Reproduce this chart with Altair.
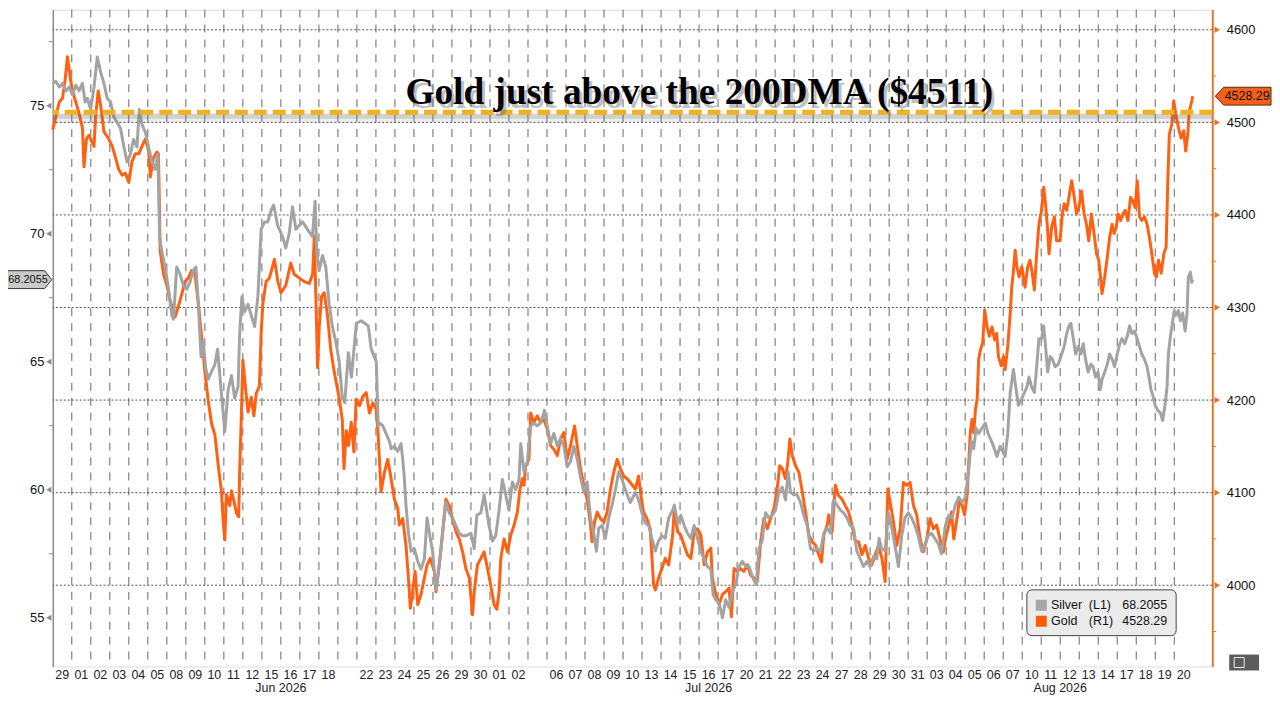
import altair as alt
import pandas as pd

# ---------------- labels / ticks ----------------
day_labels = ["29", "01", "02", "03", "04", "05", "08", "09", "10", "11", "12", "15", "16", "17", "18", "",
              "22", "23", "24", "25", "26", "29", "30", "01", "02", "", "06", "07", "08", "09", "10",
              "13", "14", "15", "16", "17", "20", "21", "22", "23", "24", "27", "28", "29", "30", "31",
              "03", "04", "05", "06", "07", "10", "11", "12", "13", "14", "17", "18", "19", "20"]
month_names = ["Jun 2026", "Jul 2026", "Aug 2026"]
month_first = [1, 23, 46]
month_last = [22, 45, 59]

gold_ticks = [4000, 4100, 4200, 4300, 4400, 4500, 4600]
gold_minor = [3950, 4050, 4150, 4250, 4350, 4450, 4550]
silver_ticks = [55, 60, 65, 70, 75]
silver_minor = [57.5, 62.5, 67.5, 72.5, 77.5]

dma_level = 4511
title_text = "Gold just above the 200DMA ($4511)"
silver_last = 68.2055
gold_last = 4528.29

# ---------------- series (position in trading-day slots, value) ----------------
gold_t = [0.0, 0.16, 0.34, 0.51, 0.65, 0.77, 0.9, 1.03, 1.21, 1.38, 1.56, 1.64, 1.77, 1.9, 2.08, 2.17, 2.25, 2.39,
          2.52, 2.69, 2.95, 3.13, 3.3, 3.47, 3.65, 3.82, 4.0, 4.17, 4.34, 4.52, 4.69, 4.87, 5.04, 5.13, 5.3, 5.48,
          5.56, 5.65, 5.83, 6.0, 6.17, 6.35, 6.44, 6.7, 6.96, 7.13, 7.31, 7.48, 7.66, 7.83, 8.0, 8.18, 8.35, 8.53,
          8.7, 8.87, 8.96, 9.05, 9.13, 9.31, 9.4, 9.54, 9.66, 9.78, 9.83, 9.92, 10.0, 10.13, 10.27, 10.44, 10.58,
          10.7, 10.87, 10.96, 11.05, 11.22, 11.4, 11.66, 11.84, 12.0, 12.26, 12.52, 12.7, 12.96, 13.23, 13.49,
          13.67, 13.76, 13.85, 13.93, 14.02, 14.14, 14.28, 14.45, 14.62, 14.8, 15.06, 15.23, 15.32, 15.44, 15.56,
          15.7, 15.84, 15.96, 16.14, 16.31, 16.49, 16.66, 16.84, 17.01, 17.1, 17.27, 17.45, 17.62, 17.8, 17.97,
          18.15, 18.23, 18.41, 18.58, 18.71, 18.81, 18.93, 19.06, 19.2, 19.37, 19.55, 19.69, 19.86, 20.07, 20.16,
          20.33, 20.51, 20.68, 20.86, 21.03, 21.21, 21.38, 21.56, 21.73, 21.91, 22.08, 22.17, 22.34, 22.52, 22.69,
          22.87, 23.04, 23.22, 23.36, 23.48, 23.57, 23.74, 23.92, 24.09, 24.27, 24.44, 24.58, 24.7, 24.79, 24.88,
          25.05, 25.14, 25.31, 25.49, 25.66, 25.84, 26.01, 26.19, 26.36, 26.54, 26.71, 26.89, 27.06, 27.24, 27.45,
          27.59, 27.76, 27.94, 28.11, 28.29, 28.37, 28.5, 28.64, 28.81, 28.99, 29.16, 29.34, 29.51, 29.69, 29.86,
          30.03, 30.21, 30.38, 30.65, 30.82, 30.94, 31.08, 31.26, 31.43, 31.61, 31.7, 31.87, 32.05, 32.22, 32.4,
          32.61, 32.7, 32.87, 33.04, 33.22, 33.39, 33.57, 33.74, 33.92, 34.09, 34.27, 34.44, 34.62, 34.7, 34.88,
          35.05, 35.23, 35.4, 35.58, 35.7, 35.84, 36.01, 36.19, 36.36, 36.54, 36.71, 36.89, 37.06, 37.24, 37.41,
          37.59, 37.76, 37.94, 38.11, 38.24, 38.38, 38.55, 38.67, 38.78, 38.9, 39.08, 39.25, 39.43, 39.6, 39.78,
          39.95, 40.13, 40.3, 40.44, 40.56, 40.74, 40.82, 41.0, 41.17, 41.34, 41.52, 41.69, 41.87, 42.04, 42.22,
          42.39, 42.57, 42.74, 42.92, 43.09, 43.27, 43.44, 43.62, 43.79, 43.93, 44.05, 44.23, 44.4, 44.58, 44.75,
          44.93, 45.1, 45.28, 45.45, 45.63, 45.8, 45.98, 46.15, 46.33, 46.5, 46.67, 46.85, 46.96, 47.14, 47.28,
          47.4, 47.57, 47.7, 47.84, 47.97, 48.1, 48.19, 48.27, 48.36, 48.45, 48.54, 48.63, 48.71, 48.8, 48.92,
          49.03, 49.15, 49.27, 49.41, 49.55, 49.66, 49.75, 49.9, 50.02, 50.1, 50.24, 50.37, 50.45, 50.54, 50.63,
          50.72, 50.84, 50.98, 51.15, 51.29, 51.41, 51.53, 51.64, 51.76, 51.88, 52.02, 52.13, 52.23, 52.34, 52.41,
          52.55, 52.69, 52.81, 52.99, 53.11, 53.21, 53.34, 53.46, 53.6, 53.74, 53.86, 53.98, 54.12, 54.26, 54.38,
          54.5, 54.64, 54.78, 54.91, 55.03, 55.13, 55.2, 55.34, 55.48, 55.6, 55.73, 55.83, 55.95, 56.04, 56.18,
          56.3, 56.42, 56.56, 56.7, 56.82, 56.94, 57.05, 57.17, 57.29, 57.43, 57.57, 57.69, 57.82, 57.96, 58.06,
          58.17, 58.31, 58.45, 58.57, 58.66, 58.74, 58.87, 58.97, 59.09, 59.22, 59.36, 59.5, 59.6, 59.71, 59.79,
          59.92, 59.97]
gold_v = [4492, 4506, 4522, 4526, 4546, 4571, 4551, 4534, 4522, 4510, 4494, 4452, 4482, 4486, 4478, 4474, 4506, 4534,
          4518, 4490, 4482, 4474, 4462, 4449, 4443, 4445, 4435, 4458, 4466, 4466, 4474, 4482, 4470, 4441, 4462, 4468,
          4466, 4361, 4336, 4324, 4308, 4296, 4290, 4308, 4328, 4332, 4340, 4336, 4304, 4268, 4231, 4199, 4175, 4162,
          4130, 4102, 4070, 4049, 4098, 4086, 4102, 4090, 4078, 4074, 4122, 4183, 4243, 4215, 4187, 4203, 4183,
          4207, 4215, 4272, 4304, 4328, 4332, 4352, 4328, 4316, 4324, 4348, 4336, 4332, 4328, 4326,
          4336, 4377, 4304, 4235, 4280, 4312, 4316, 4292, 4255, 4231, 4203, 4179, 4126, 4167, 4151,
          4176, 4144, 4201, 4194, 4204, 4208, 4186, 4197, 4190, 4169, 4101, 4122, 4136, 4115, 4093,
          4083, 4065, 4072, 4043, 4008, 3975, 3993, 4015, 3979, 3990, 4008, 4022, 4029, 4015, 3993,
          4022, 4058, 4093, 4086, 4072, 4058, 4050, 4036, 4018, 4008, 3968, 3993, 4022, 4029, 4036,
          4018, 4000, 3979, 3974, 3993, 4029, 4050, 4036, 4054, 4065, 4079, 4104, 4115, 4108, 4129,
          4136, 4186, 4176, 4183, 4176, 4179, 4169, 4151, 4147, 4140, 4158, 4165, 4136, 4151, 4172,
          4151, 4126, 4108, 4093, 4065, 4047, 4068, 4079, 4072, 4068, 4079, 4104, 4122, 4136, 4126,
          4118, 4115, 4111, 4104, 4118, 4097, 4079, 4072, 4061, 4000, 3995, 4008, 4018, 4029, 4022,
          4054, 4083, 4058, 4054, 4043, 4033, 4029, 4058, 4061, 4054, 4022, 4036, 4040, 4008, 3990,
          3979, 3990, 3993, 3997, 3966, 4018, 4015, 4018, 4015, 4022, 4011, 4008, 4004, 4047, 4072,
          4061, 4072, 4083, 4104, 4129, 4126, 4115, 4133, 4158, 4140, 4129, 4122, 4101, 4079, 4054,
          4047, 4043, 4033, 4025, 4054, 4065, 4076, 4058, 4108, 4097, 4093, 4086, 4079, 4065, 4047,
          4047, 4033, 4043, 4029, 4022, 4033, 4043, 4029, 4004, 4104, 4090, 4068, 4043, 4061, 4111,
          4108, 4111, 4086, 4076, 4050, 4036, 4050, 4072, 4061, 4065, 4050, 4036, 4050, 4065, 4079,
          4050, 4072, 4093, 4086, 4076, 4097, 4133, 4165, 4179, 4165, 4190, 4201, 4244, 4254, 4262,
          4297, 4279, 4269, 4279, 4265, 4272, 4247, 4237, 4247, 4233, 4258, 4294, 4322, 4340, 4362,
          4344, 4333, 4344, 4322, 4344, 4351, 4337, 4319, 4358, 4390, 4405, 4430, 4412, 4383, 4358,
          4387, 4398, 4372, 4372, 4401, 4412, 4405, 4419, 4437, 4419, 4401, 4408, 4426, 4401, 4390,
          4372, 4401, 4380, 4358, 4351, 4330, 4315, 4333, 4355, 4376, 4390, 4380, 4387, 4401, 4394,
          4401, 4405, 4394, 4419, 4415, 4408, 4437, 4398, 4394, 4398, 4390, 4376, 4358, 4337, 4333,
          4351, 4337, 4358, 4365, 4437, 4487, 4498, 4523, 4508, 4494, 4483, 4491, 4469, 4487, 4512,
          4523, 4528.29]

silver_t = [0.0, 0.16, 0.34, 0.51, 0.69, 0.86, 1.03, 1.21, 1.38, 1.56, 1.7, 1.82, 1.99, 2.17, 2.34, 2.52, 2.69, 2.86,
            3.04, 3.21, 3.39, 3.56, 3.74, 3.91, 4.08, 4.25, 4.43, 4.55, 4.69, 4.87, 5.04, 5.22, 5.39, 5.53, 5.62,
            5.74, 5.91, 6.09, 6.26, 6.35, 6.52, 6.7, 6.87, 7.05, 7.22, 7.39, 7.53, 7.66, 7.8, 7.92, 8.04, 8.18, 8.35,
            8.53, 8.67, 8.79, 8.91, 9.05, 9.22, 9.4, 9.57, 9.75, 9.83, 9.95, 10.09, 10.27, 10.44, 10.62, 10.79,
            10.96, 11.14, 11.31, 11.48, 11.62, 11.83, 12.09, 12.26, 12.44, 12.61, 12.79, 12.96, 13.14, 13.4, 13.66,
            13.8, 13.89, 14.01, 14.19, 14.36, 14.54, 14.71, 14.89, 15.06, 15.23, 15.36, 15.55, 15.71, 15.97, 16.23,
            16.6, 16.75, 17.02, 17.12, 17.19, 17.36, 17.53, 17.71, 17.8, 17.97, 18.15, 18.32, 18.41, 18.5, 18.58,
            18.71, 18.85, 19.02, 19.2, 19.37, 19.55, 19.69, 19.86, 19.98, 20.16, 20.24, 20.42, 20.59, 20.68, 20.86,
            21.03, 21.21, 21.38, 21.56, 21.73, 22.0, 22.17, 22.31, 22.52, 22.69, 22.78, 22.95, 23.13, 23.3, 23.48,
            23.65, 23.83, 24.0, 24.18, 24.35, 24.53, 24.62, 24.79, 24.97, 25.14, 25.31, 25.49, 25.66, 25.87, 26.01,
            26.19, 26.36, 26.54, 26.71, 26.89, 27.06, 27.24, 27.41, 27.59, 27.76, 27.94, 28.11, 28.29, 28.46, 28.6,
            28.72, 28.9, 29.07, 29.25, 29.42, 29.6, 29.77, 29.95, 30.12, 30.38, 30.65, 30.82, 30.99, 31.17, 31.35,
            31.52, 31.7, 31.87, 32.05, 32.22, 32.4, 32.61, 32.7, 32.87, 33.04, 33.22, 33.39, 33.57, 33.74, 33.92,
            34.09, 34.27, 34.44, 34.62, 34.74, 34.88, 35.05, 35.23, 35.4, 35.58, 35.75, 35.93, 36.1, 36.28, 36.45,
            36.63, 36.8, 37.01, 37.15, 37.32, 37.5, 37.67, 37.85, 38.02, 38.2, 38.38, 38.55, 38.69, 38.81, 38.99,
            39.16, 39.34, 39.51, 39.69, 39.86, 40.04, 40.21, 40.39, 40.56, 40.74, 40.91, 41.08, 41.26, 41.43, 41.6,
            41.78, 41.95, 42.13, 42.3, 42.48, 42.65, 42.83, 43.0, 43.18, 43.35, 43.47, 43.61, 43.79, 43.96, 44.14,
            44.31, 44.49, 44.66, 44.83, 45.01, 45.18, 45.36, 45.53, 45.71, 45.88, 46.05, 46.23, 46.4, 46.58, 46.75,
            46.96, 47.14, 47.31, 47.48, 47.66, 47.84, 48.01, 48.19, 48.32, 48.45, 48.57, 48.71, 48.88, 49.06, 49.2,
            49.32, 49.49, 49.67, 49.84, 49.97, 50.1, 50.24, 50.37, 50.54, 50.66, 50.8, 50.94, 51.06, 51.24, 51.36,
            51.5, 51.64, 51.76, 51.88, 52.02, 52.13, 52.23, 52.34, 52.47, 52.59, 52.73, 52.9, 53.08, 53.21, 53.34,
            53.46, 53.56, 53.69, 53.81, 53.95, 54.09, 54.21, 54.33, 54.47, 54.61, 54.73, 54.86, 54.99, 55.11, 55.2,
            55.34, 55.48, 55.6, 55.73, 55.86, 56.0, 56.13, 56.25, 56.39, 56.53, 56.65, 56.77, 56.91, 57.05, 57.17,
            57.29, 57.43, 57.57, 57.69, 57.78, 57.87, 57.99, 58.13, 58.27, 58.39, 58.51, 58.62, 58.69, 58.8, 58.92,
            59.0, 59.09, 59.22, 59.32, 59.44, 59.57, 59.67, 59.74, 59.85, 59.92, 59.97]
silver_v = [75.87, 75.95, 75.73, 75.87, 75.58, 75.73, 75.43, 75.8, 75.58, 75.87, 75.14, 75.29, 74.85, 75.73, 76.9,
            76.31, 75.87, 75.29, 75.14, 74.56, 74.34, 74.12, 73.39, 72.8, 73.1, 73.68, 73.39, 74.85, 74.27, 73.97,
            73.39, 72.8, 72.51, 73.1, 69.88, 69.29, 68.7, 67.83, 66.81, 66.66, 68.7, 68.41, 67.97, 67.83, 68.12,
            68.56, 68.7, 67.24, 65.19, 65.78, 64.76, 64.32, 64.61, 64.9, 65.49, 64.46, 63.44, 62.27, 63.88, 64.46,
            63.58, 64.03, 66.07, 67.54, 66.95, 67.24, 66.81, 66.37, 67.54, 70.17, 70.46, 70.46, 70.9, 71.12, 70.32,
            69.88, 69.44, 70.02, 71.05, 70.17, 70.32, 70.46, 70.17, 69.88, 71.27, 69.29, 68.56, 69.15, 68.7, 67.24,
            66.37, 65.78, 65.05, 63.6, 63.4, 65.35, 64.4, 66.5, 66.6, 66.4, 65.5, 65.0, 62.5, 62.6, 62.5, 62.2,
            61.9, 61.6, 61.7, 61.5, 61.8, 61.2, 60.4, 59.4, 58.3, 57.6, 57.7, 57.2, 56.9, 57.3, 58.9, 58.1, 57.6,
            56.1, 56.5, 57.6, 58.9, 59.5, 59.1, 58.9, 58.6, 58.3, 58.2, 58.2, 58.3, 57.7, 59.0, 59.1, 59.8, 59.4,
            58.6, 58.0, 58.2, 59.2, 60.4, 59.8, 59.2, 60.3, 60.0, 60.4, 61.8, 60.7, 61.1, 62.5, 62.6, 62.5, 62.6,
            63.1, 62.5, 61.8, 62.2, 61.7, 62.0, 61.7, 60.9, 61.1, 61.7, 61.2, 60.5, 59.9, 60.3, 58.9, 58.3, 57.6,
            58.5, 58.6, 58.1, 58.9, 59.4, 60.0, 60.7, 60.4, 60.0, 59.5, 59.9, 59.6, 59.1, 58.7, 58.6, 58.1, 57.6,
            58.0, 58.2, 58.1, 58.9, 59.2, 59.4, 58.7, 59.0, 58.6, 58.3, 58.1, 58.6, 58.1, 57.6, 57.3, 57.0, 56.9,
            55.9, 55.7, 55.6, 55.0, 55.7, 55.4, 56.0, 56.3, 57.0, 57.2, 57.0, 57.0, 56.6, 56.3, 57.7, 58.0, 59.1,
            58.9, 59.0, 59.2, 59.9, 60.1, 59.6, 60.7, 59.9, 59.8, 59.8, 59.5, 59.0, 58.6, 57.7, 57.6, 57.7, 57.6,
            58.3, 58.5, 58.3, 59.6, 59.4, 59.2, 59.1, 58.9, 58.6, 58.5, 57.6, 57.3, 57.0, 57.2, 57.0, 57.4, 57.3,
            58.1, 57.7, 57.6, 59.1, 58.5, 57.8, 57.0, 58.2, 58.9, 59.1, 58.9, 58.6, 58.2, 57.6, 57.8, 58.2, 58.3,
            58.1, 57.9, 57.5, 58.6, 59.0, 58.9, 59.4, 59.7, 59.5, 59.7, 60.8, 61.9, 61.6, 62.4, 62.2, 62.4, 62.6,
            62.2, 62.0, 61.7, 61.3, 61.7, 61.5, 61.3, 62.2, 63.8, 64.7, 64.0, 63.3, 63.5, 63.7, 64.0, 64.4, 64.0,
            63.8, 64.8, 65.9, 65.9, 66.4, 65.6, 64.6, 65.2, 65.1, 64.8, 64.9, 65.3, 65.6, 66.1, 66.4, 66.5, 65.9,
            65.3, 65.6, 65.3, 65.7, 65.1, 64.6, 64.9, 64.8, 64.4, 64.6, 63.9, 64.3, 64.6, 64.9, 65.3, 65.1, 64.8,
            65.3, 65.7, 65.9, 65.7, 66.0, 66.4, 66.1, 66.2, 65.9, 65.6, 65.3, 65.1, 64.8, 64.3, 63.9, 63.7, 63.3,
            63.1, 63.0, 62.7, 63.3, 64.0, 65.3, 66.0, 66.6, 67.0, 66.8, 67.0, 66.6, 66.9, 66.2, 66.9, 68.3, 68.5,
            68.1, 68.2055]

# ---------------- geometry / scales ----------------
W, H = 1165, 660
XS = alt.Scale(domain=[0, 61], nice=False, zero=False)
GS = alt.Scale(domain=[3912.2, 4621.8], nice=False, zero=False)
SS = alt.Scale(domain=[53.095, 78.751], nice=False, zero=False)
FONT = "Liberation Sans"

gold_df = pd.DataFrame({"t": gold_t, "v": gold_v})
silver_df = pd.DataFrame({"t": silver_t, "v": silver_v})
day_df = pd.DataFrame({"slot": list(range(len(day_labels))), "label": day_labels})
day_df = day_df[day_df["label"] != ""].copy()
day_df["mid"] = day_df["slot"] + 0.5
month_df = pd.DataFrame({"m": month_names,
                         "c": [(a + b + 1) / 2 for a, b in zip(month_first, month_last)]})
vgrid_df = pd.DataFrame({"b": list(range(1, len(day_labels)))})
one = pd.DataFrame({"k": [0]})

# grids
vgrid = alt.Chart(vgrid_df).mark_rule(color="#666666", strokeWidth=1, strokeDash=[8, 7]).encode(
    x=alt.X("b:Q", scale=XS, axis=None))
hgrid = alt.Chart(pd.DataFrame({"g": gold_ticks})).mark_rule(
    color="#505050", strokeWidth=1, strokeDash=[2, 2]).encode(y=alt.Y("g:Q", scale=GS, axis=None))

# series
gold_line = alt.Chart(gold_df).mark_line(color="#FF6012", strokeWidth=3, strokeJoin="round").encode(
    x=alt.X("t:Q", scale=XS, axis=None),
    y=alt.Y("v:Q", scale=GS, axis=alt.Axis(
        orient="right", values=gold_ticks, format="d", ticks=False, tickSize=0, grid=False, title=None,
        domainColor="#E8762B", domainWidth=2, labelFont=FONT, labelFontSize=13, labelColor="#111",
        labelPadding=14)))
silver_line = alt.Chart(silver_df).mark_line(color="#A3A3A3", strokeWidth=3, strokeJoin="round").encode(
    x=alt.X("t:Q", scale=XS, axis=None),
    y=alt.Y("v:Q", scale=SS, axis=alt.Axis(
        orient="left", values=silver_ticks, format="d", ticks=False, tickSize=0, grid=False, title=None,
        domainColor="#8c8c8c", domainWidth=1.5, labelFont=FONT, labelFontSize=13, labelColor="#111",
        labelPadding=9)))

# axis decorations
left_arrows = alt.Chart(pd.DataFrame({"s": silver_ticks})).mark_point(
    shape="triangle-left", size=36, filled=True, color="#8a8a8a", opacity=1).encode(
    x=alt.value(-4), y=alt.Y("s:Q", scale=SS, axis=None))
left_minor = alt.Chart(pd.DataFrame({"s": silver_minor})).mark_rule(color="#8a8a8a", strokeWidth=1).encode(
    x=alt.value(-4), x2=alt.value(0), y=alt.Y("s:Q", scale=SS, axis=None))
right_arrows = alt.Chart(pd.DataFrame({"g": gold_ticks})).mark_point(
    shape="triangle-right", size=40, filled=True, color="#E8702A", opacity=1).encode(
    x=alt.value(W + 5), y=alt.Y("g:Q", scale=GS, axis=None))
right_minor = alt.Chart(pd.DataFrame({"g": gold_minor})).mark_rule(color="#E8702A", strokeWidth=1).encode(
    x=alt.value(W), x2=alt.value(W + 4), y=alt.Y("g:Q", scale=GS, axis=None))

# 200DMA line
dma_df = pd.DataFrame({"g": [dma_level]})
dma_sh1 = alt.Chart(dma_df).mark_rule(color="#6a6a6a", strokeWidth=8, opacity=0.12, yOffset=6).encode(
    y=alt.Y("g:Q", scale=GS, axis=None))
dma_sh2 = alt.Chart(dma_df).mark_rule(color="#6a6a6a", strokeWidth=5, opacity=0.22, yOffset=4).encode(
    y=alt.Y("g:Q", scale=GS, axis=None))
dma_line = alt.Chart(dma_df).mark_rule(color="#EDB31E", strokeWidth=5, strokeDash=[13, 6]).encode(
    y=alt.Y("g:Q", scale=GS, axis=None))

# title with a soft drop shadow
title_df = pd.DataFrame({"txt": [title_text]})


def title_layer(dx, dy, color, op):
    return alt.Chart(title_df).mark_text(
        font="Liberation Serif", fontWeight="bold", fontSize=37.5, align="center",
        baseline="alphabetic", color=color, opacity=op).encode(
        x=alt.value(649.5 + dx), y=alt.value(94.5 + dy), text="txt:N")


title_layers = [title_layer(3, 4, "#666666", 0.4), title_layer(0, 0, "#000000", 1.0)]

# legend box
legend_layers = [alt.Chart(one).mark_rect(fill="#EBEBEB", stroke="#444444", strokeWidth=1, cornerRadius=5).encode(
    x=alt.value(978.7), x2=alt.value(1128.7), y=alt.value(583), y2=alt.value(629))]
legend_rows = [("Silver", "(L1)", f"{silver_last:.4f}", "#A6A6A6", 598.5),
               ("Gold", "(R1)", f"{gold_last:.2f}", "#FF5A00", 614.5)]
for name, tag, val, col, yc in legend_rows:
    legend_layers.append(alt.Chart(one).mark_rect(fill=col).encode(
        x=alt.value(987.7), x2=alt.value(998.7), y=alt.value(yc - 5.5), y2=alt.value(yc + 5.5)))
    row_df = pd.DataFrame({"a": [name], "b": [tag], "c": [val]})
    for fld, xx in (("a", 1003), ("b", 1041), ("c", 1074.5)):
        legend_layers.append(alt.Chart(row_df).mark_text(
            font=FONT, fontSize=12.5, color="#111", align="left", baseline="middle").encode(
            x=alt.value(xx), y=alt.value(yc), text=f"{fld}:N"))

# last-value tags
left_path = "M -1 -0.346 L 0.72 -0.346 L 1 0 L 0.72 0.346 L -1 0.346 Z"
right_path = "M -1 0 L -0.7 -0.32 L 1 -0.32 L 1 0.32 L -0.7 0.32 Z"
stag_df = pd.DataFrame({"v": [silver_last], "lab": [f"{silver_last:.4f}"]})
gtag_df = pd.DataFrame({"v": [gold_last], "lab": [f"{gold_last:.2f}"]})
tag_layers = [
    alt.Chart(stag_df).mark_point(shape=left_path, size=2704, filled=True, fill="#C9C9C9", stroke="#333333",
                                  strokeWidth=1, opacity=1).encode(
        x=alt.value(-27), y=alt.Y("v:Q", scale=SS, axis=None)),
    alt.Chart(stag_df).mark_text(font=FONT, fontSize=11, color="#111", align="right", baseline="middle").encode(
        x=alt.value(-5), y=alt.Y("v:Q", scale=SS, axis=None), text="lab:N"),
    alt.Chart(gtag_df).mark_point(shape=right_path, size=3136, filled=True, fill="#F4601A", stroke="#5a2a00",
                                  strokeWidth=1, opacity=1).encode(
        x=alt.value(W + 31), y=alt.Y("v:Q", scale=GS, axis=None)),
    alt.Chart(gtag_df).mark_text(font=FONT, fontSize=12.5, color="#111", align="center", baseline="middle").encode(
        x=alt.value(W + 35), y=alt.Y("v:Q", scale=GS, axis=None), text="lab:N"),
]

# small button bottom right
button_layers = [
    alt.Chart(one).mark_rect(fill="#5c5c5c").encode(
        x=alt.value(W + 17), x2=alt.value(W + 47), y=alt.value(H - 12), y2=alt.value(H + 4)),
    alt.Chart(one).mark_rect(fill="#5c5c5c", stroke="#eeeeee", strokeWidth=1).encode(
        x=alt.value(W + 22), x2=alt.value(W + 32), y=alt.value(H - 9), y2=alt.value(H + 1)),
]

# x labels
days = alt.Chart(day_df).mark_text(font=FONT, fontSize=12.5, color="#222", baseline="middle").encode(
    x=alt.X("mid:Q", scale=XS, axis=None), y=alt.value(H + 9), text="label:N")
months = alt.Chart(month_df).mark_text(font=FONT, fontSize=12.5, color="#222", baseline="middle").encode(
    x=alt.X("c:Q", scale=XS, axis=None), y=alt.value(H + 22), text="m:N")

chart = alt.layer(
    vgrid, hgrid, gold_line, silver_line, dma_sh1, dma_sh2, dma_line,
    left_arrows, left_minor, right_arrows, right_minor,
    *title_layers, *legend_layers, *tag_layers, *button_layers, days, months
).resolve_scale(y="independent").properties(
    width=W, height=H,
    padding={"left": 45, "top": 0, "right": 60, "bottom": 28},
    autosize=alt.AutoSizeParams(type="none"),
).configure_view(stroke=None).configure(background="white")

chart.save("out.html", embed_options={"renderer": "svg", "actions": False})
